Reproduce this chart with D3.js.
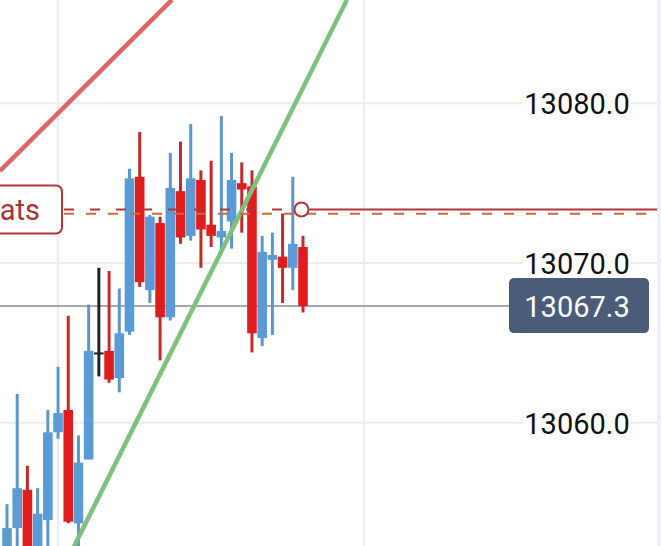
<!DOCTYPE html>
<html>
<head>
<meta charset="utf-8">
<script src="https://cdn.jsdelivr.net/npm/d3@7"></script>
<style>
  html, body { margin: 0; padding: 0; background: #fff; overflow: hidden; }
  svg { display: block; font-family: Roboto, "Noto Sans", sans-serif; }
</style>
</head>
<body>
<div id="chart"></div>
<script>
// 1: DATA
const opens  = [13051.7, 13053.4, 13055.8, 13051.5, 13053.9, 13059.4, 13060.8, 13053.7, 13057.7, 13064.4,
                13064.5, 13062.8, 13065.7, 13075.4, 13068.3, 13072.5, 13066.6, 13074.5, 13071.7, 13075.2,
                13072.4, 13071.6, 13072.6, 13075.0, 13074.8, 13065.3, 13070.2, 13070.4, 13069.7, 13071.0];
const highs  = [13054.9, 13061.8, 13057.3, 13055.9, 13060.8, 13063.5, 13066.7, 13059.2, 13067.4, 13069.7,
                13069.5, 13068.4, 13075.9, 13078.2, 13073.0, 13072.9, 13076.9, 13077.6, 13078.7, 13075.8,
                13076.4, 13079.2, 13076.9, 13076.3, 13075.8, 13071.7, 13071.9, 13073.1, 13075.4, 13071.7];
const lows   = [13051.1, 13051.5, 13050.5, 13051.0, 13051.8, 13059.0, 13053.7, 13051.5, 13057.7, 13062.9,
                13062.5, 13061.9, 13065.5, 13068.5, 13067.5, 13063.9, 13066.4, 13071.2, 13071.4, 13069.7,
                13071.0, 13070.6, 13070.9, 13071.9, 13064.4, 13064.8, 13065.5, 13067.5, 13068.3, 13066.9];
const closes = [13053.4, 13055.9, 13051.2, 13054.3, 13059.4, 13060.6, 13053.8, 13057.5, 13064.5, 13064.4,
                13062.7, 13065.6, 13075.3, 13068.8, 13072.9, 13066.6, 13074.7, 13071.6, 13075.3, 13072.1,
                13071.7, 13072.0, 13075.2, 13074.6, 13065.6, 13070.7, 13070.5, 13069.7, 13071.2, 13067.3];

const priceTicks = [13060, 13070, 13080];
const timeGrid = [5, 35];           // vertical grid lines (bar index)
const lastPrice = 13067.3;

// drawn lines: bar index / price
const redTrend   = [{ i: -0.69, p: 13075.76 }, { i: 16.16, p: 13086.48 }];
const greenTrend = [{ i: 6.56,  p: 13052.24 }, { i: 33.3,  p: 13086.48 }];
const stopPrice = 13073.35;         // solid / dashed dark red order line
const avgPrice  = 13073.08;         // orange dashed line
const orderBar  = 28.85;            // where the order marker sits
const orderLabel = "ats";

// 2: LAYOUT
const width = 661, height = 546;
const plotRight = 657;

const svg = d3.select("#chart")
    .append("svg")
    .attr("width", width)
    .attr("height", height);

const x = d3.scaleLinear().domain([0, 29]).range([7, 303]);
const y = d3.scaleLinear().domain([13060, 13080]).range([422.7, 103.3]);
const step = x(1) - x(0);

const candles = opens.map((o, i) => ({ i, o, h: highs[i], l: lows[i], c: closes[i] }));

// grid
svg.append("g").selectAll("line")
    .data(priceTicks)
    .enter().append("line")
    .attr("x1", 0).attr("x2", plotRight)
    .attr("y1", d => y(d)).attr("y2", d => y(d))
    .attr("stroke", "#ececec")
    .attr("stroke-width", 2);

svg.append("g").selectAll("line")
    .data(timeGrid)
    .enter().append("line")
    .attr("x1", d => x(d)).attr("x2", d => x(d))
    .attr("y1", 0).attr("y2", height)
    .attr("stroke", "#ececec")
    .attr("stroke-width", 2);

svg.append("rect")
    .attr("x", plotRight).attr("y", 0)
    .attr("width", width - plotRight).attr("height", height)
    .attr("fill", "#eef0f4");

// last price line (behind the bars)
svg.append("line")
    .attr("x1", 0).attr("x2", 520)
    .attr("y1", y(lastPrice)).attr("y2", y(lastPrice))
    .attr("stroke", "#a3a9b3")
    .attr("stroke-width", 2);

// 3: CANDLES
const colorOf = d => d.c > d.o ? "#5b9bd5" : d.c < d.o ? "#e01c1c" : "#222";
const wickOf  = d => d.c > d.o ? "#5b96cc" : d.c < d.o ? "#c42a2a" : "#222";

const bars = svg.append("g").selectAll("g")
    .data(candles)
    .enter().append("g");

bars.append("line")
    .attr("x1", d => x(d.i)).attr("x2", d => x(d.i))
    .attr("y1", d => y(d.h)).attr("y2", d => y(d.l))
    .attr("stroke", wickOf)
    .attr("stroke-width", 3);

bars.append("rect")
    .attr("x", d => x(d.i) - step * 0.47)
    .attr("width", step * 0.94)
    .attr("y", d => y(Math.max(d.o, d.c)))
    .attr("height", d => Math.max(2, Math.abs(y(d.o) - y(d.c))))
    .attr("fill", colorOf);

// 4: DRAWINGS
const line = d3.line().x(d => x(d.i)).y(d => y(d.p));

svg.append("path")
    .datum(redTrend)
    .attr("fill", "none")
    .attr("stroke", "#e06666")
    .attr("stroke-width", 4.5)
    .attr("d", line);

svg.append("path")
    .datum(greenTrend)
    .attr("fill", "none")
    .attr("stroke", "#7dc17d")
    .attr("stroke-width", 4.5)
    .attr("d", line);

// order lines
svg.append("line")
    .attr("x1", 64).attr("x2", x(orderBar) - 7)
    .attr("y1", y(stopPrice)).attr("y2", y(stopPrice))
    .attr("stroke", "#b3343a")
    .attr("stroke-width", 2)
    .attr("stroke-dasharray", "10,16");

svg.append("line")
    .attr("x1", x(orderBar)).attr("x2", plotRight)
    .attr("y1", y(stopPrice)).attr("y2", y(stopPrice))
    .attr("stroke", "#b3343a")
    .attr("stroke-width", 2);

svg.append("line")
    .attr("x1", 64).attr("x2", plotRight)
    .attr("y1", y(avgPrice)).attr("y2", y(avgPrice))
    .attr("stroke", "#d0693a")
    .attr("stroke-width", 2)
    .attr("stroke-dasharray", "10,12");

svg.append("circle")
    .attr("cx", x(orderBar))
    .attr("cy", y(stopPrice))
    .attr("r", 7)
    .attr("fill", "#fff")
    .attr("stroke", "#b3343a")
    .attr("stroke-width", 2);

// order label box (cut off at the left edge)
const labelG = svg.append("g")
    .attr("transform", `translate(0, ${y(stopPrice)})`);

labelG.append("rect")
    .attr("x", -30).attr("y", -24)
    .attr("width", 92).attr("height", 48)
    .attr("rx", 6)
    .attr("fill", "#fff")
    .attr("stroke", "#b3343a")
    .attr("stroke-width", 2);

labelG.append("text")
    .attr("x", 40)
    .attr("y", 10)
    .attr("text-anchor", "end")
    .attr("fill", "#a8323a")
    .style("font-size", "29px")
    .text(orderLabel);

// 5: PRICE AXIS
const axis = svg.append("g")
    .attr("transform", "translate(577, 0)")
    .call(d3.axisRight(y).tickValues(priceTicks).tickSize(0).tickPadding(0).tickFormat(d3.format(".1f")));

axis.select(".domain").remove();
axis.selectAll("text")
    .attr("x", 0)
    .attr("dy", "0.36em")
    .attr("text-anchor", "middle")
    .attr("fill", "#111")
    .style("font-family", "Roboto, sans-serif")
    .style("font-size", "29px");

axis.selectAll(".tick").insert("rect", "text")
    .attr("x", -54).attr("y", -12)
    .attr("width", 108).attr("height", 24)
    .attr("fill", "#fff");

// last price tag
const tag = svg.append("g")
    .attr("transform", `translate(577, ${y(lastPrice)})`);

tag.append("rect")
    .attr("x", -68).attr("y", -28)
    .attr("width", 140).attr("height", 55)
    .attr("rx", 5)
    .attr("fill", "#4b5c79");

tag.append("text")
    .attr("dy", "0.36em")
    .attr("text-anchor", "middle")
    .attr("fill", "#fff")
    .style("font-size", "29px")
    .text(d3.format(".1f")(lastPrice));
</script>
</body>
</html>
